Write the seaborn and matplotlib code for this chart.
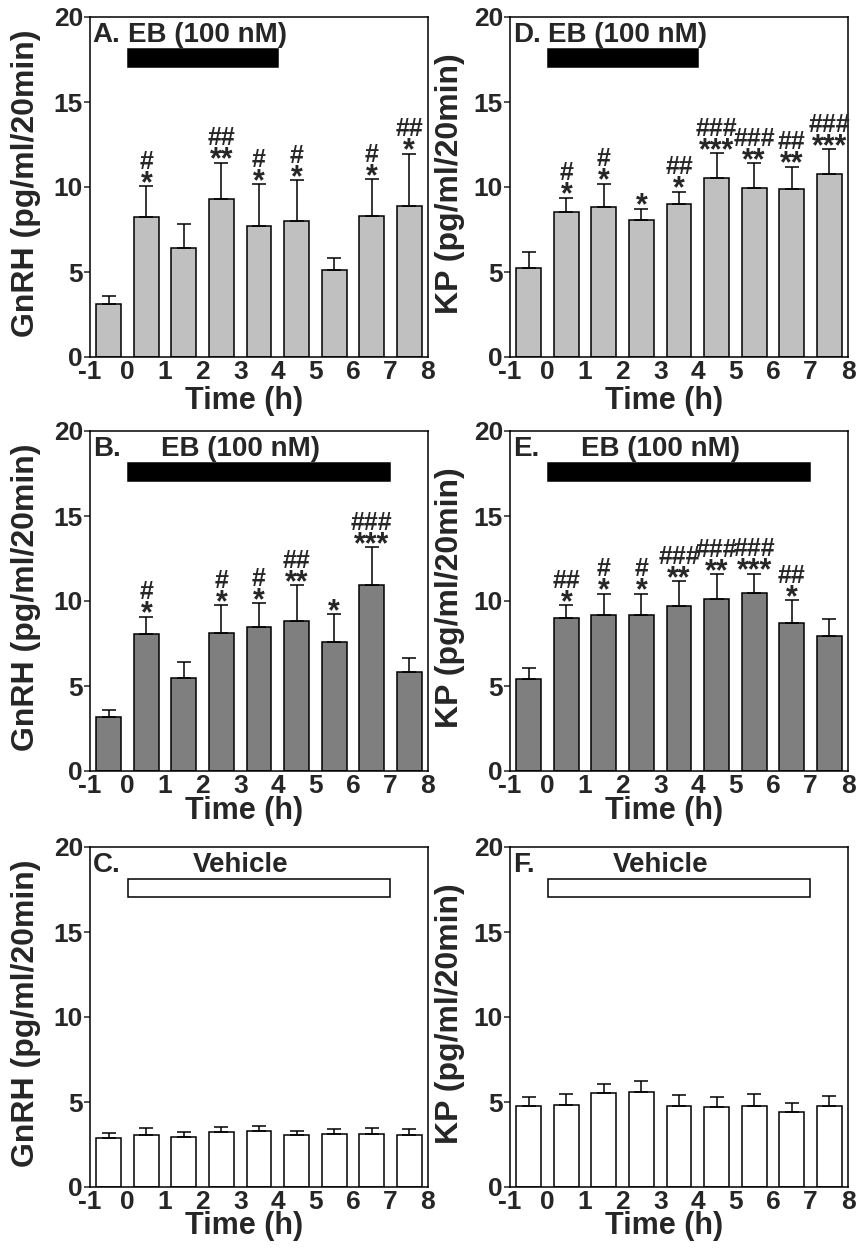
import numpy as np
import matplotlib
matplotlib.use("Agg")
import matplotlib.pyplot as plt
import seaborn as sns

# ---------------- data ----------------
times = [-0.5, 0.5, 1.5, 2.5, 3.5, 4.5, 5.5, 6.5, 7.5]
xticks = [-1, 0, 1, 2, 3, 4, 5, 6, 7, 8]
yticks = [0, 5, 10, 15, 20]

# A: GnRH, EB 0-4 h
a_mean = [3.10, 8.24, 6.41, 9.31, 7.71, 7.98, 5.14, 8.29, 8.88]
a_sem = [0.47, 1.82, 1.39, 2.12, 2.47, 2.41, 0.70, 2.18, 3.08]
a_star = ["", "*", "", "**", "*", "*", "", "*", "*"]
a_hash = ["", "#", "", "##", "#", "#", "", "#", "##"]

# B: GnRH, EB 0-7 h
b_mean = [3.17, 8.03, 5.48, 8.13, 8.48, 8.81, 7.58, 10.97, 5.84]
b_sem = [0.40, 1.04, 0.93, 1.62, 1.39, 2.12, 1.63, 2.21, 0.82]
b_star = ["", "*", "", "*", "*", "**", "*", "***", ""]
b_hash = ["", "#", "", "#", "#", "##", "", "###", ""]

# C: GnRH, vehicle
c_mean = [2.90, 3.08, 2.94, 3.22, 3.27, 3.04, 3.10, 3.14, 3.08]
c_sem = [0.28, 0.39, 0.30, 0.31, 0.34, 0.27, 0.31, 0.31, 0.33]

# D: KP, EB 0-4 h
d_mean = [5.25, 8.55, 8.82, 8.08, 8.98, 10.53, 9.96, 9.88, 10.76]
d_sem = [0.95, 0.82, 1.38, 0.65, 0.75, 1.45, 1.43, 1.32, 1.48]
d_star = ["", "*", "*", "*", "*", "***", "**", "**", "***"]
d_hash = ["", "#", "#", "", "##", "###", "###", "##", "###"]

# E: KP, EB 0-7 h
e_mean = [5.39, 8.99, 9.19, 9.17, 9.70, 10.09, 10.48, 8.68, 7.97]
e_sem = [0.64, 0.76, 1.23, 1.27, 1.48, 1.49, 1.12, 1.35, 0.96]
e_star = ["", "*", "*", "*", "**", "**", "***", "*", ""]
e_hash = ["", "##", "#", "#", "###", "###", "###", "##", ""]

# F: KP, vehicle
f_mean = [4.75, 4.82, 5.51, 5.57, 4.78, 4.73, 4.76, 4.43, 4.75]
f_sem = [0.56, 0.67, 0.53, 0.68, 0.65, 0.58, 0.69, 0.49, 0.60]

empty = [""] * 9

panels = [
    ("A.", "EB (100 nM)", 0, 4, a_mean, a_sem, a_star, a_hash, "GnRH (pg/ml/20min)", "#c0c0c0", True, 0.0, "left"),
    ("B.", "EB (100 nM)", 0, 7, b_mean, b_sem, b_star, b_hash, "GnRH (pg/ml/20min)", "#7f7f7f", True, 3.0, "center"),
    ("C.", "Vehicle", 0, 7, c_mean, c_sem, empty, empty, "GnRH (pg/ml/20min)", "white", False, 3.0, "center"),
    ("D.", "EB (100 nM)", 0, 4, d_mean, d_sem, d_star, d_hash, "KP (pg/ml/20min)", "#c0c0c0", True, 0.0, "left"),
    ("E.", "EB (100 nM)", 0, 7, e_mean, e_sem, e_star, e_hash, "KP (pg/ml/20min)", "#7f7f7f", True, 3.0, "center"),
    ("F.", "Vehicle", 0, 7, f_mean, f_sem, empty, empty, "KP (pg/ml/20min)", "white", False, 3.0, "center"),
]

# ---------------- style ----------------
sns.set_style("ticks")
plt.rcParams["font.family"] = ["Liberation Sans", "DejaVu Sans"]
plt.rcParams["font.weight"] = "bold"
plt.rcParams["axes.labelweight"] = "bold"

fig = plt.figure(figsize=(8.56, 12.48), dpi=100)

W, H = 856.0, 1248.0
col_left = [90 / W, 510 / W]
row_bottom = [1 - 357 / H, 1 - 771 / H, 1 - 1187 / H]
ax_w = 338 / W
ax_h = 340 / H
ylabel_x = [-0.145, -0.133]
xlabel_y = [-0.085, -0.075, -0.072]

lw = 1.1

for i, (letter, treat, t0, t1, mean, sem, stars, hashes, ylab, color, filled, tx, tha) in enumerate(panels):
    col = i // 3
    row = i % 3
    ax = fig.add_axes([col_left[col], row_bottom[row], ax_w, ax_h])

    sns.barplot(x=times, y=mean, native_scale=True, width=0.66, color=color,
                saturation=1, edgecolor="black", linewidth=lw, errorbar=None, ax=ax)
    ax.errorbar(times, mean, yerr=[np.zeros(len(sem)), sem], fmt="none",
                ecolor="black", elinewidth=lw, capsize=5, capthick=lw, zorder=3)

    # treatment bar
    ax.barh(y=17.575, width=t1 - t0, left=t0, height=1.05,
            color="black" if filled else "white", edgecolor="black", linewidth=lw, zorder=3)

    ax.text(-0.93, 18.5, letter, fontsize=20, fontweight="bold", ha="left", va="baseline")
    ax.text(tx, 18.5, treat, fontsize=20, fontweight="bold", ha=tha, va="baseline")

    for t, m, s, st, hs in zip(times, mean, sem, stars, hashes):
        if st:
            ax.annotate(st, xy=(t, m + s), xytext=(0, -4.2), textcoords="offset points",
                        ha="center", va="baseline", fontsize=22, fontweight="bold")
        if hs:
            ax.annotate(hs, xy=(t, m + s), xytext=(0, 12.5), textcoords="offset points",
                        ha="center", va="baseline", fontsize=18, fontweight="bold")

    ax.set_xlim(-1, 8)
    ax.set_ylim(0, 20)
    ax.set_xticks(xticks)
    ax.set_xticklabels([str(v) for v in xticks])
    ax.set_yticks(yticks)
    ax.set_yticklabels([str(v) for v in yticks])
    ax.tick_params(axis="x", length=0, pad=2.5, labelsize=19)
    ax.tick_params(axis="y", length=4, width=lw, pad=1, labelsize=19)
    for sp in ax.spines.values():
        sp.set_visible(True)
        sp.set_linewidth(lw)
        sp.set_color("black")
    ax.set_xlabel("Time (h)", fontsize=22, fontweight="bold")
    ax.set_ylabel(ylab, fontsize=23, fontweight="bold")
    ax.xaxis.set_label_coords(0.455, xlabel_y[row])
    ax.yaxis.set_label_coords(ylabel_x[col], 0.51)

fig.savefig("out.png", dpi=100)
